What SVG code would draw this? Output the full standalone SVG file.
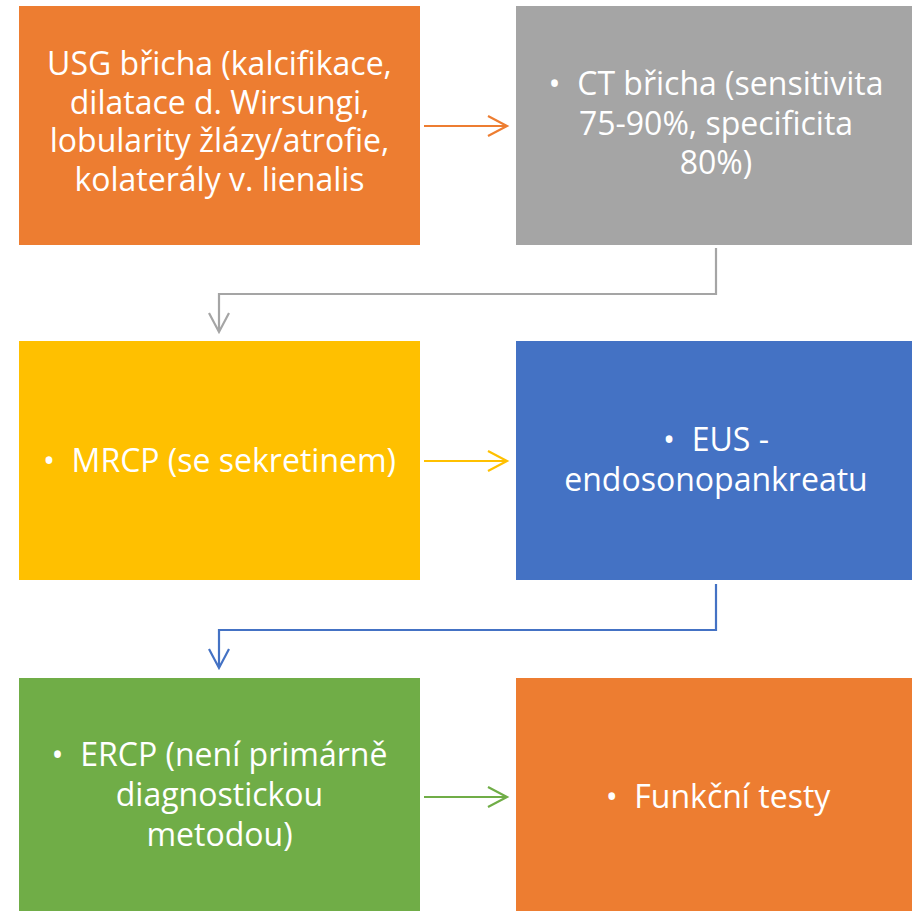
<svg xmlns="http://www.w3.org/2000/svg" width="912" height="911" viewBox="0 0 912 911">
<defs>
<style>
.t{font-family:"Open Sans","Liberation Sans",sans-serif;font-size:32px;fill:#fff;text-anchor:middle}
.c{fill:none;stroke-width:2.2}
</style>
</defs>
<rect width="912" height="911" fill="#fff"/>
<g id="n1"><rect x="19" y="6" width="401" height="239" fill="#ED7D31"/>
<text class="t" x="219.5" y="75">USG břicha (kalcifikace,</text>
<text class="t" x="219.5" y="113.5">dilatace d. Wirsungi,</text>
<text class="t" x="219.5" y="152">lobularity žlázy/atrofie,</text>
<text class="t" x="219.5" y="190.5">kolaterály v. lienalis</text></g>
<g id="n2"><rect x="516" y="6" width="396" height="239" fill="#A5A5A5"/>
<text class="t" x="716" y="95">•&#160;&#160;CT břicha (sensitivita</text>
<text class="t" x="716" y="135">75-90%, specificita</text>
<text class="t" x="716" y="174">80%)</text></g>
<g id="n3"><rect x="19" y="341" width="401" height="239" fill="#FFC000"/>
<text class="t" x="219.5" y="472">•&#160;&#160;MRCP (se sekretinem)</text></g>
<g id="n4"><rect x="516" y="341" width="396" height="239" fill="#4472C4"/>
<text class="t" x="716" y="451">•&#160;&#160;EUS -</text>
<text class="t" x="716" y="491">endosonopankreatu</text></g>
<g id="n5"><rect x="19" y="678" width="401" height="233" fill="#70AD47"/>
<text class="t" x="219.5" y="766">•&#160;&#160;ERCP (není primárně</text>
<text class="t" x="219.5" y="806">diagnostickou</text>
<text class="t" x="219.5" y="846">metodou)</text></g>
<g id="n6"><rect x="516" y="678" width="396" height="233" fill="#ED7D31"/>
<text class="t" x="718" y="808">•&#160;&#160;Funkční testy</text></g>
<g id="connectors">
<path class="c" stroke="#ED7D31" d="M424,126 H507 M488,116 L507,126 L488,136"/>
<path class="c" stroke="#A5A5A5" d="M716,248 V294 H219 V332 M209,313 L219,332 L229,313"/>
<path class="c" stroke="#FFC000" d="M424,461 H507 M488,451 L507,461 L488,471"/>
<path class="c" stroke="#4472C4" d="M716,584 V630 H219 V668 M209,649 L219,668 L229,649"/>
<path class="c" stroke="#70AD47" d="M424,797 H507 M488,787 L507,797 L488,807"/>
</g>
</svg>
